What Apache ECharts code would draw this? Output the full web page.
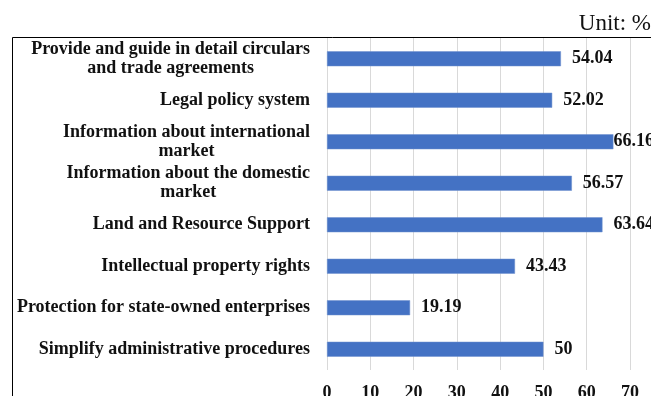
<!DOCTYPE html>
<html>
<head>
<meta charset="utf-8">
<script src="https://cdn.jsdelivr.net/npm/echarts@6/dist/echarts.min.js"></script>
<style>
html,body{margin:0;padding:0;background:#fff;}
#chart{width:651px;height:396px;}
</style>
</head>
<body>
<div id="chart"></div>
<script>
var categories = [
  'Provide and guide in detail circulars\nand trade agreements',
  'Legal policy system',
  'Information about international\nmarket',
  'Information about the domestic\nmarket',
  'Land and Resource Support',
  'Intellectual property rights',
  'Protection for state-owned enterprises',
  'Simplify administrative procedures'
];
var values = [54.04, 52.02, 66.16, 56.57, 63.64, 43.43, 19.19, 50];
var unitLabel = 'Unit: %';

var serif = "'Liberation Serif', 'Times New Roman', serif";
var axisMax = 70;
// labels that would run off the plot are pulled in against the bar end
var seriesData = values.map(function (v) {
  return v > axisMax - 5 ? {value: v, label: {distance: 0}} : v;
});

var chart = echarts.init(document.getElementById('chart'), null, {renderer: 'canvas'});
chart.setOption({
  animation: false,
  backgroundColor: '#ffffff',
  title: {
    text: unitLabel,
    right: 0,
    top: 12,
    padding: 0,
    textStyle: {fontFamily: serif, fontSize: 23, fontWeight: 'normal', color: '#111'}
  },
  graphic: [{
    type: 'rect',
    shape: {x: 12.5, y: 37.5, width: 700, height: 400},
    style: {fill: 'none', stroke: '#000', lineWidth: 1},
    silent: true,
    z: 100
  }],
  grid: {left: 327, right: 21, top: 38, bottom: 26, containLabel: false, outerBoundsMode: 'none'},
  xAxis: {
    type: 'value',
    min: 0,
    max: axisMax,
    interval: 10,
    axisLine: {show: false},
    axisTick: {show: false},
    splitLine: {show: true, lineStyle: {color: '#d9d9d9', width: 1}},
    axisLabel: {fontFamily: serif, fontSize: 18, fontWeight: 'bold', color: '#111', margin: 14}
  },
  yAxis: {
    type: 'category',
    data: categories,
    inverse: true,
    axisLine: {show: false},
    axisTick: {show: false},
    axisLabel: {
      margin: 17,
      formatter: function (v) {
        return v.split('\n').map(function (s) { return '{a|' + s + '}'; }).join('\n');
      },
      rich: {
        a: {align: 'center', fontFamily: serif, fontSize: 18, fontWeight: 'bold', color: '#111', lineHeight: 19}
      }
    }
  },
  series: [{
    type: 'bar',
    data: seriesData,
    barWidth: 15,
    itemStyle: {color: '#4472C4', borderColor: '#6f90cf', borderWidth: 0.5},
    label: {
      show: true,
      position: 'right',
      distance: 11,
      fontFamily: serif,
      fontSize: 18,
      fontWeight: 'bold',
      color: '#111'
    }
  }]
});
</script>
</body>
</html>
